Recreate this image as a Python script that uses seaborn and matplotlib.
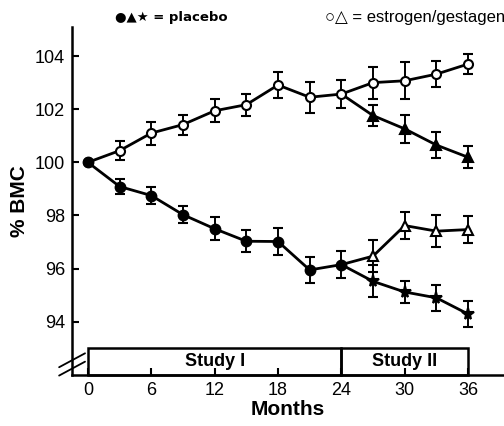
import matplotlib
matplotlib.use("Agg")
import matplotlib.pyplot as plt
import seaborn as sns
import numpy as np
from matplotlib.patches import Rectangle

sns.set_style("ticks")
plt.rcParams['font.family'] = ['Liberation Sans', 'DejaVu Sans']
plt.rcParams['text.color'] = 'black'
plt.rcParams['axes.labelcolor'] = 'black'
plt.rcParams['xtick.color'] = 'black'
plt.rcParams['ytick.color'] = 'black'
plt.rcParams['axes.edgecolor'] = 'black'

# ---- data ----
months_study1 = [0, 3, 6, 9, 12, 15, 18, 21, 24]
months_all = [0, 3, 6, 9, 12, 15, 18, 21, 24, 27, 30, 33, 36]
months_study2 = [24, 27, 30, 33, 36]

estrogen_circle = [100.0, 100.44, 101.1, 101.42, 101.94, 102.17, 102.91, 102.45, 102.57, 103.0, 103.07, 103.32, 103.7]
estrogen_circle_err = [0.0, 0.35, 0.43, 0.38, 0.43, 0.42, 0.48, 0.59, 0.54, 0.6, 0.7, 0.5, 0.38]

placebo_circle = [100.0, 99.09, 98.75, 98.03, 97.5, 97.03, 97.02, 95.95, 96.15]
placebo_circle_err = [0.0, 0.3, 0.32, 0.33, 0.43, 0.42, 0.52, 0.5, 0.5]

placebo_triangle = [102.57, 101.76, 101.26, 100.65, 100.19]
placebo_triangle_err = [0.54, 0.39, 0.53, 0.5, 0.41]

estrogen_triangle = [96.15, 96.47, 97.62, 97.41, 97.47]
estrogen_triangle_err = [0.5, 0.61, 0.52, 0.61, 0.51]

placebo_star = [96.15, 95.52, 95.12, 94.9, 94.29]
placebo_star_err = [0.5, 0.6, 0.42, 0.49, 0.49]

xticks = [0, 6, 12, 18, 24, 30, 36]
yticks = [94, 96, 98, 100, 102, 104]
studies = ["Study I", "Study II"]
study_spans = [(0, 24), (24, 36)]

# ---- figure ----
fig = plt.figure(figsize=(5.04, 4.26), dpi=100)
ax = fig.add_axes([0.143, 0.120, 0.857, 0.817])

lw = 2.0
def series(x, y, err, marker, mfc, ms, skip_first=False):
    sns.lineplot(x=x, y=y, ax=ax, color='black', lw=lw, zorder=2)
    s = 1 if skip_first else 0
    ax.errorbar(x[s:], y[s:], yerr=err[s:], fmt=marker, color='black',
                mfc=mfc, mec='black', ms=ms, mew=1.5, elinewidth=1.4,
                capsize=3.5, capthick=1.4, zorder=3)

series(months_all, estrogen_circle, estrogen_circle_err, 'o', 'white', 6.5)
series(months_study2, placebo_triangle, placebo_triangle_err, '^', 'black', 7, skip_first=True)
series(months_study2, estrogen_triangle, estrogen_triangle_err, '^', 'white', 7, skip_first=True)
series(months_study2, placebo_star, placebo_star_err, '*', 'black', 8.5, skip_first=True)
series(months_study1, placebo_circle, placebo_circle_err, 'o', 'black', 7)

ax.set_xlim(-1.5, 39.4)
ax.set_ylim(92.0, 105.1)
ax.set_xticks(xticks)
ax.set_yticks(yticks)
ax.tick_params(direction='in', length=5, width=1.5, labelsize=13, pad=5)
for sp in ['top', 'right']:
    ax.spines[sp].set_visible(False)
for sp in ['left', 'bottom']:
    ax.spines[sp].set_linewidth(1.8)

# study boxes
for name, (a, b) in zip(studies, study_spans):
    ax.add_patch(Rectangle((a, 92.0), b - a, 1.0, fill=False, ec='black', lw=1.8, zorder=4, clip_on=False))
    ax.text((a + b) / 2, 92.5, name, ha='center', va='center', fontsize=13, fontweight='bold')

# axis break marks
for dy in (-0.012, 0.012):
    ax.plot([-0.03, 0.03], [0.03 + dy - 0.02, 0.03 + dy + 0.02], transform=ax.transAxes,
            color='black', lw=1.3, clip_on=False)

ax.set_xlabel("Months", fontsize=15, fontweight='bold', labelpad=1)
ax.set_ylabel("% BMC", fontsize=15, fontweight='bold', labelpad=4)

fig.text(0.228, 0.958, "●▲★ = placebo", fontsize=9.5, fontweight='bold', va='center',
         family=['DejaVu Sans'])
fig.text(0.645, 0.958, "○△ = estrogen/gestagen", fontsize=12, va='center',
         family=['Liberation Sans', 'DejaVu Sans'])

fig.savefig("out.png", dpi=100)
